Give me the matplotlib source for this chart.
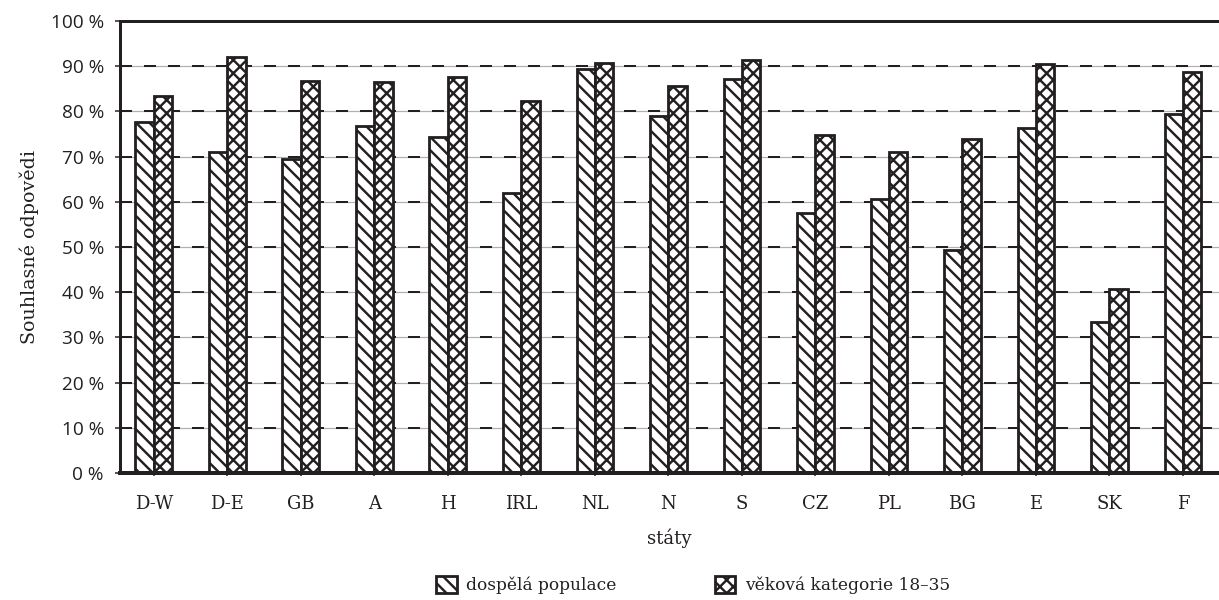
import numpy as np
import matplotlib
matplotlib.use('Agg')
import matplotlib.pyplot as plt

# data
staty = ['D-W', 'D-E', 'GB', 'A', 'H', 'IRL', 'NL', 'N', 'S', 'CZ', 'PL', 'BG', 'E', 'SK', 'F']
dospela = [77.7, 71.0, 69.5, 76.8, 74.3, 62.0, 89.4, 79.0, 87.1, 57.6, 60.6, 49.3, 76.4, 33.3, 79.4]
mladi = [83.5, 92.1, 86.7, 86.4, 87.5, 82.4, 90.6, 85.6, 91.4, 74.8, 71.0, 73.8, 90.4, 40.6, 88.8]
yticks = list(range(0, 101, 10))

DPI = 80
def px(v):
    return v * 72.0 / DPI

ink = '#231f20'
serif = ['DejaVu Serif']
sans = ['Open Sans', 'DejaVu Sans']

plt.rcParams['hatch.linewidth'] = px(2.4)
plt.rcParams['hatch.color'] = ink

fig = plt.figure(figsize=(1219 / DPI, 600 / DPI), dpi=DPI)
ax = fig.add_axes([120 / 1219, 1 - 473 / 600, 1 - 120 / 1219, (473 - 21) / 600])

x = np.arange(len(staty))
w = 0.25
b1 = ax.bar(x - w / 2, dospela, w, color='white', edgecolor=ink, linewidth=px(2.8),
            hatch='\\\\', zorder=3, label='dospělá populace')
b2 = ax.bar(x + w / 2, mladi, w, color='white', edgecolor=ink, linewidth=px(2.8),
            hatch='xx', zorder=3, label='věková kategorie 18–35')

# gridlines: light grey line with dark dashes on top
for v in yticks[1:-1]:
    ax.axhline(v, color='#b0b0b0', linewidth=px(1.2), zorder=1)
    ax.axhline(v, color=ink, linewidth=px(2.0), linestyle=(0, (6.0, 6.0)), zorder=2)

ax.set_xlim(-0.46, 14.49)
ax.set_ylim(0, 100)
ax.set_yticks(yticks)
ax.set_yticklabels([f'{v} %' for v in yticks], family=sans, fontsize=px(19), color=ink)
ax.set_xticks(x)
ax.set_xticklabels(staty, family=serif, fontsize=px(18), color=ink)
ax.tick_params(axis='y', length=px(5), width=px(1.5), pad=px(11), color=ink)
ax.tick_params(axis='x', length=px(3), width=px(1.5), pad=px(19), color=ink)

for s in ['top', 'left']:
    ax.spines[s].set_linewidth(px(3))
    ax.spines[s].set_color(ink)
ax.spines['bottom'].set_linewidth(px(4))
ax.spines['bottom'].set_color(ink)
ax.spines['bottom'].set_zorder(4)
ax.spines['right'].set_visible(False)

ax.set_ylabel('Souhlasné odpovědi', family=serif, fontsize=px(19), color=ink, labelpad=px(12))
ax.set_xlabel('státy', family=serif, fontsize=px(18), color=ink, labelpad=px(16))

fig.legend(handles=[b1, b2], loc='center', bbox_to_anchor=(693 / 1219, 1 - 585 / 600),
           ncol=2, frameon=False, prop={'family': serif, 'size': px(17)},
           handlelength=1.2, handleheight=1.2, handletextpad=0.55, columnspacing=5.8,
           labelcolor=ink)

fig.savefig('out.png', dpi=DPI, facecolor='white')
